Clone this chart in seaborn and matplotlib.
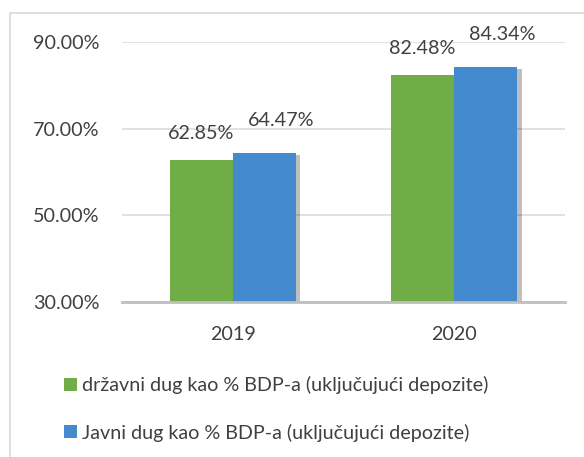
import pandas as pd
import matplotlib.pyplot as plt
import matplotlib.patheffects as pe
from matplotlib.patches import Rectangle, Patch
import seaborn as sns

# podaci sa grafikona
godine = ["2019", "2020"]
drzavni_dug = [62.85, 82.48]
javni_dug = [64.47, 84.34]
serije = ["državni dug kao % BDP-a (uključujući depozite)",
          "Javni dug kao % BDP-a (uključujući depozite)"]
boje = ["#70AD47", "#448ACF"]
y_ticks = [30, 50, 70, 90]

df = pd.DataFrame({
    "godina": godine * 2,
    "vrijednost": drzavni_dug + javni_dug,
    "serija": [serije[0]] * 2 + [serije[1]] * 2,
})

sns.set_style("white")
plt.rcParams["font.family"] = ["Lato", "DejaVu Sans"]
tekst = "#404040"
fs = 14.2

fig = plt.figure(figsize=(5.84, 4.57), dpi=100)
ax = fig.add_axes([122 / 584, 1 - 302 / 457, 443 / 584, 260 / 457])

sns.barplot(data=df, x="godina", y="vrijednost", hue="serija", palette=boje,
            saturation=1, linewidth=0, width=0.57, gap=0, ax=ax, legend=False)

ax.set_ylim(30, 90)
ax.set_xlim(-0.5, 1.5)
ax.set_yticks(y_ticks)
ax.set_yticklabels([f"{v:.2f}%" for v in y_ticks])
ax.yaxis.grid(True, color="#D9D9D9", linewidth=1.1)
ax.set_axisbelow(True)
ax.set_xlabel("")
ax.set_ylabel("")
for s in ["top", "left", "right"]:
    ax.spines[s].set_visible(False)
ax.spines["bottom"].set_color("#BFBFBF")
ax.spines["bottom"].set_linewidth(2)
ax.tick_params(axis="y", length=0, pad=16, labelsize=fs, labelcolor=tekst)
ax.tick_params(axis="x", length=0, pad=17, labelsize=fs, labelcolor=tekst)

# sjenke i oznake vrijednosti
for p in ax.patches:
    p.set_path_effects([pe.withSimplePatchShadow(offset=(3, -2), shadow_rgbFace="k", alpha=0.25),
                        pe.Normal()])

for i, cont in enumerate(ax.containers):
    dx, dy = (0, 19) if i == 0 else (12, 23)
    for p in cont:
        v = p.get_height()
        ax.annotate(f"{v:.2f}%", (p.get_x() + p.get_width() / 2, v),
                    xytext=(dx, dy), textcoords="offset points",
                    ha="center", va="center", fontsize=fs, color=tekst,
                    annotation_clip=False)

handles = [Patch(facecolor=c, edgecolor="none") for c in boje]
fig.legend(handles, serije, loc="upper left", bbox_to_anchor=(64 / 584, 1 - 376 / 457),
           frameon=False, fontsize=fs, labelcolor=tekst, borderpad=0, borderaxespad=0,
           handlelength=0.65, handleheight=0.65, handletextpad=0.25, labelspacing=1.5)

# okvir grafikona
fig.patches.append(Rectangle((10 / 584, -0.1), 1.2, 1.1 - 13 / 457, transform=fig.transFigure,
                             fill=False, edgecolor="#D9D9D9", linewidth=1.2))

fig.savefig("out.png", dpi=100)
